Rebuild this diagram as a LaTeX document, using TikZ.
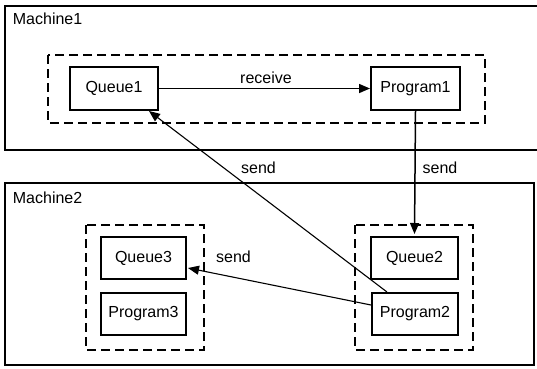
\documentclass[tikz,border=0pt]{standalone}
\usepackage{fontspec}
\setmainfont{Liberation Sans}
\usetikzlibrary{arrows.meta}
\begin{document}
\begin{tikzpicture}[x=1pt,y=-1pt,
  every node/.style={font=\fontsize{16}{19}\selectfont, text=black},
  machine/.style={draw, line width=2pt},
  group/.style={draw, line width=2pt, dash pattern=on 9pt off 5pt},
  box/.style={draw, line width=2pt, minimum width=87pt, minimum height=42pt, inner sep=0pt},
  lbl/.style={anchor=west, inner sep=0pt},
  conn/.style={line width=1.5pt, -{Triangle[length=11pt,width=9pt]}},
  thin conn/.style={line width=1.1pt, -{Triangle[length=11pt,width=9pt]}}
]
\useasboundingbox[fill=white] (0,0) rectangle (537,368);
% machines
\draw[machine] (545,6) -- (5,6) -- (5,150) -- (545,150);
\draw[machine] (5,183) rectangle (534,365);
\node[lbl] (m1) at (12.7,19) {Machine1};
\node[lbl] (m2) at (12.7,198) {Machine2};
% groups
\draw[group] (48,55) rectangle (485,123);
\draw[group] (86,225) rectangle (204,350);
\draw[group] (355,225) rectangle (473,350);
% nodes
\node[box, minimum width=88pt, minimum height=43pt] (q1) at (114,88.5) {Queue1};
\node[box, minimum width=89pt, minimum height=43pt] (p1) at (415.5,88.5) {Program1};
\node[box, minimum width=85pt] (q3) at (143.5,258) {Queue3};
\node[box, minimum width=85pt] (pr3) at (143.5,314) {Program3};
\node[box] (q2) at (414.5,258) {Queue2};
\node[box, minimum width=86pt] (p2) at (415,314) {Program2};
% connectors
\draw[conn] (q1.east) -- (p1.west);
\node (lr) at (266,78) {receive};
\draw[conn] (p1.south) -- ([yshift=2pt]q2.north);
\node (ls1) at (440,168) {send};
\draw[thin conn] ([xshift=-28pt]p2.north) -- ([xshift=-10pt]q1.south east);
\node (ls2) at (258.5,168) {send};
\draw[thin conn] ([yshift=9pt]p2.west) -- ([xshift=1pt,yshift=-10pt]q3.east);
\node (ls3) at (233.5,257) {send};
\end{tikzpicture}
\end{document}
